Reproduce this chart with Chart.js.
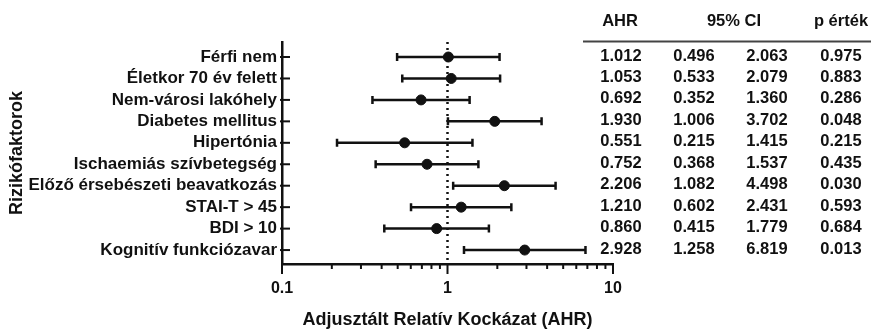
<!DOCTYPE html>
<html>
<head>
<meta charset="utf-8">
<script src="https://cdn.jsdelivr.net/npm/chart.js@4.4.1/dist/chart.umd.min.js"></script>
<style>
  body { margin: 0; background: #fff; }
  #wrap { width: 871px; height: 331px; }
</style>
</head>
<body>
<div id="wrap"><canvas id="forest"></canvas></div>
<script>
const categories = ['Férfi nem', 'Életkor 70 év felett', 'Nem-városi lakóhely', 'Diabetes mellitus', 'Hipertónia',
    'Ischaemiás szívbetegség', 'Előző érsebészeti beavatkozás', 'STAI-T > 45', 'BDI > 10', 'Kognitív funkciózavar'];
const ahr = [1.012, 1.053, 0.692, 1.930, 0.551, 0.752, 2.206, 1.210, 0.860, 2.928];
const ciLow = [0.496, 0.533, 0.352, 1.006, 0.215, 0.368, 1.082, 0.602, 0.415, 1.258];
const ciHigh = [2.063, 2.079, 1.360, 3.702, 1.415, 1.537, 4.498, 2.431, 1.779, 6.819];
const pValues = [0.975, 0.883, 0.286, 0.048, 0.215, 0.435, 0.030, 0.593, 0.684, 0.013];
const xTicks = [0.1, 0.2, 0.3, 0.4, 0.5, 0.6, 0.7, 0.8, 0.9, 1, 2, 3, 4, 5, 6, 7, 8, 9, 10];
const xLabels = [0.1, 1, 10];

const FONT = "'Liberation Sans', Arial, sans-serif";
const INK = '#111';

// ticks, reference line, error bars and the table on the right
const forestPlugin = {
    id: 'forest',
    beforeDatasetsDraw(chart) {
        const {ctx, chartArea, scales: {x, y}} = chart;
        ctx.save();
        ctx.strokeStyle = INK;

        // dotted line at 1
        ctx.lineWidth = 2.5;
        ctx.setLineDash([2, 4]);
        const x1 = x.getPixelForValue(1);
        ctx.beginPath();
        ctx.moveTo(x1, chartArea.top);
        ctx.lineTo(x1, chartArea.bottom);
        ctx.stroke();
        ctx.setLineDash([]);

        // y ticks pointing inward
        ctx.lineWidth = 2;
        categories.forEach((c, i) => {
            const py = y.getPixelForValue(i);
            ctx.beginPath();
            ctx.moveTo(chartArea.left - 2, py);
            ctx.lineTo(chartArea.left + 8, py);
            ctx.stroke();
        });

        // x ticks, long at decades
        xTicks.forEach(v => {
            const px = x.getPixelForValue(v);
            const major = xLabels.includes(v);
            ctx.beginPath();
            ctx.moveTo(px, chartArea.bottom);
            ctx.lineTo(px, chartArea.bottom + (major ? 10 : 5));
            ctx.stroke();
        });

        // error bars
        ctx.lineWidth = 2.5;
        categories.forEach((c, i) => {
            const py = y.getPixelForValue(i);
            const a = x.getPixelForValue(ciLow[i]);
            const b = x.getPixelForValue(ciHigh[i]);
            ctx.beginPath();
            ctx.moveTo(a, py);
            ctx.lineTo(b, py);
            ctx.moveTo(a, py - 4);
            ctx.lineTo(a, py + 4);
            ctx.moveTo(b, py - 4);
            ctx.lineTo(b, py + 4);
            ctx.stroke();
        });
        ctx.restore();
    },
    afterDraw(chart) {
        const {ctx, scales: {y}} = chart;
        ctx.save();
        ctx.fillStyle = INK;
        ctx.font = 'bold 16.5px ' + FONT;
        ctx.textAlign = 'center';
        ctx.textBaseline = 'middle';
        ctx.fillText('AHR', 620, 21);
        ctx.fillText('95% CI', 734, 21);
        ctx.fillText('p érték', 841, 21);

        ctx.strokeStyle = '#444';
        ctx.lineWidth = 2;
        ctx.beginPath();
        ctx.moveTo(583, 41.5);
        ctx.lineTo(871, 41.5);
        ctx.stroke();

        categories.forEach((c, i) => {
            const py = y.getPixelForValue(i) - 1;
            ctx.fillText(ahr[i].toFixed(3), 621, py);
            ctx.fillText(ciLow[i].toFixed(3), 694, py);
            ctx.fillText(ciHigh[i].toFixed(3), 767, py);
            ctx.fillText(pValues[i].toFixed(3), 841, py);
        });
        ctx.restore();
    }
};

new Chart(document.getElementById('forest'), {
    type: 'scatter',
    data: {
        datasets: [{
            data: ahr.map((v, i) => ({x: v, y: i})),
            backgroundColor: INK,
            borderColor: INK,
            pointRadius: 5,
        }],
    },
    options: {
        responsive: true,
        maintainAspectRatio: false,
        animation: false,
        layout: {padding: {top: 42, right: 258, bottom: 0, left: 0}},
        plugins: {
            legend: {display: false},
            tooltip: {enabled: false},
        },
        scales: {
            x: {
                type: 'logarithmic',
                min: 0.1,
                max: 10,
                afterBuildTicks: s => { s.ticks = xTicks.map(v => ({value: v})); },
                afterFit: s => { s.height = 67; },
                grid: {display: false, drawTicks: false},
                border: {display: true, width: 2.5, color: INK},
                ticks: {
                    autoSkip: false,
                    maxRotation: 0,
                    padding: 15,
                    color: INK,
                    font: {family: FONT, size: 16, weight: 'bold'},
                    callback: v => xLabels.includes(v) ? String(v) : '',
                },
                title: {
                    display: true,
                    text: 'Adjusztált Relatív Kockázat (AHR)',
                    color: INK,
                    font: {family: FONT, size: 18, weight: 'bold'},
                    padding: {top: 0, bottom: 0},
                },
            },
            y: {
                type: 'linear',
                reverse: true,
                min: -0.7,
                max: 9.65,
                afterBuildTicks: s => { s.ticks = categories.map((c, i) => ({value: i})); },
                afterFit: s => { s.width = 282; },
                grid: {display: false, drawTicks: false},
                border: {display: true, width: 2.5, color: INK},
                ticks: {
                    autoSkip: false,
                    padding: 5,
                    color: INK,
                    font: {family: FONT, size: 17, weight: 'bold'},
                    callback: v => categories[v],
                },
                title: {
                    display: true,
                    text: 'Rizikófaktorok',
                    color: INK,
                    font: {family: FONT, size: 18, weight: 'bold'},
                    padding: {top: 6, bottom: 0},
                },
            },
        },
    },
    plugins: [forestPlugin],
});
</script>
</body>
</html>
